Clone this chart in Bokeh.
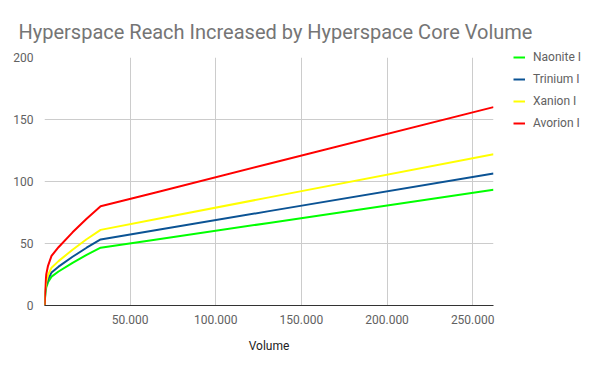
from bokeh.plotting import figure
from bokeh.models import Range1d, FixedTicker, Legend, LegendItem, ColumnDataSource
from bokeh.embed import file_html
from bokeh.resources import INLINE

volume = [0, 512, 1024, 2048, 4096, 8192, 16384, 24576, 32768, 65536, 131072, 262144]
naonite = [0, 9.9, 14.6, 18.7, 23.3, 27.4, 34.4, 40.8, 46.6, 53.3, 66.6, 93.3]
trinium = [0, 11.3, 16.7, 21.3, 26.6, 31.3, 39.3, 46.6, 53.3, 60.9, 76.1, 106.5]
xanion = [0, 13.0, 19.0, 24.4, 30.5, 35.8, 45.0, 53.4, 61.0, 69.7, 87.2, 122.0]
avorion = [0, 17.0, 25.0, 32.0, 40.0, 47.0, 59.0, 70.0, 80.0, 91.4, 114.3, 160.0]

series_names = ["Naonite I", "Trinium I", "Xanion I", "Avorion I"]
series_colors = ["#00ff00", "#0b5394", "#ffff00", "#ff0000"]

x_ticks = [50000, 100000, 150000, 200000, 250000]
x_tick_labels = ["50.000", "100.000", "150.000", "200.000", "250.000"]
y_ticks = [0, 50, 100, 150, 200]

title_text = "Hyperspace Reach Increased by Hyperspace Core Volume"
x_label = "Volume"

FONT = "Roboto"

p = figure(frame_width=449, frame_height=248, output_backend="svg", toolbar_location=None,
           x_range=Range1d(0, 262144), y_range=Range1d(0, 200),
           min_border_left=44, min_border_right=99, min_border_top=57, min_border_bottom=59)
p.outline_line_color = None
p.background_fill_color = "white"
p.border_fill_color = "white"

p.title.text = title_text
p.title.text_font = FONT
p.title.text_font_size = "20px"
p.title.text_font_style = "normal"
p.title.text_color = "#757575"
p.title.align = "left"
p.title.offset = -26
p.title.standoff = 27

src = ColumnDataSource(dict(x=volume, n=naonite, t=trinium, xa=xanion, a=avorion))
renderers = []
for col, color in zip(["n", "t", "xa", "a"], series_colors):
    r = p.line("x", col, source=src, line_color=color, line_width=2)
    renderers.append(r)

legend = Legend(items=[LegendItem(label=n, renderers=[r]) for n, r in zip(series_names, renderers)],
                location=(20, 174))
legend.border_line_color = None
legend.background_fill_alpha = 0
legend.label_text_font = FONT
legend.label_text_font_size = "12px"
legend.label_text_color = "#616161"
legend.glyph_width = 12
legend.glyph_height = 12
legend.label_standoff = 8
legend.spacing = 6
legend.padding = 0
legend.margin = 0
legend.label_height = 16
p.add_layout(legend, "right")

for ax in [p.xaxis[0], p.yaxis[0]]:
    ax.major_tick_line_color = None
    ax.minor_tick_line_color = None
    ax.major_label_text_font = FONT
    ax.major_label_text_font_size = "12px"
    ax.major_label_text_color = "#616161"

p.yaxis[0].axis_line_color = None
p.yaxis[0].ticker = FixedTicker(ticks=y_ticks)
p.yaxis[0].major_label_standoff = 5

p.xaxis[0].axis_line_color = "#333333"
p.xaxis[0].axis_line_width = 1
p.xaxis[0].ticker = FixedTicker(ticks=x_ticks)
p.xaxis[0].major_label_overrides = dict(zip(x_ticks, x_tick_labels))
p.xaxis[0].major_label_standoff = 3
p.xaxis[0].axis_label = x_label
p.xaxis[0].axis_label_text_font = FONT
p.xaxis[0].axis_label_text_font_size = "12px"
p.xaxis[0].axis_label_text_font_style = "normal"
p.xaxis[0].axis_label_text_color = "#222222"
p.xaxis[0].axis_label_standoff = 12

p.xgrid.ticker = FixedTicker(ticks=x_ticks)
p.ygrid.ticker = FixedTicker(ticks=y_ticks)
p.xgrid.grid_line_color = "#cccccc"
p.ygrid.grid_line_color = "#cccccc"

open("out.html", "w").write(file_html(p, INLINE))
